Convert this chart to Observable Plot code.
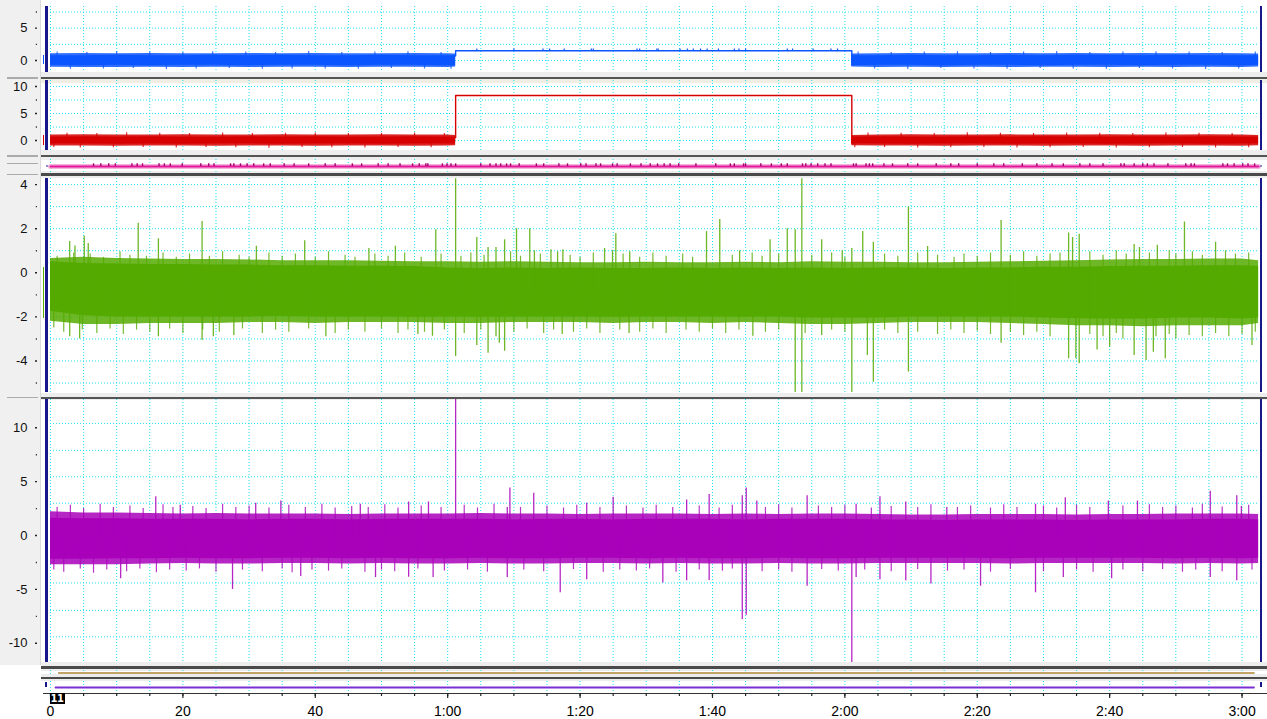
<!DOCTYPE html>
<html>
<head>
<meta charset="utf-8">
<script src="https://cdn.jsdelivr.net/npm/d3@7"></script>
<script src="https://cdn.jsdelivr.net/npm/@observablehq/plot@0.6"></script>
<style>
html, body { margin: 0; padding: 0; background: #fff; }
#root { position: relative; width: 1267px; height: 719px; overflow: hidden; background: #fff; font-family: "Liberation Sans", Arial, sans-serif; }
#root svg { position: absolute; left: 0; }
.box { position: absolute; }
#tag { position: absolute; left: 49.5px; top: 692.7px; width: 15px; height: 11.5px; background: #000; color: #fff; font: bold 10px "DejaVu Sans", sans-serif; line-height: 11.5px; text-align: center; letter-spacing: -0.5px; }
</style>
</head>
<body>
<div id="root"></div>
<script>
// ---------- time axis ----------
const T_END = 182.56;
const gridT = [0,5,10,15,20,25,30,35,40,45,50,55,60,65,70,75,80,85,90,95,100,105,110,115,120,125,130,135,140,145,150,155,160,165,170,175,180];
const xMinorT = gridT;
const xMajorT = [0,20,40,60,80,100,120,140,160,180];

// ---------- channel 1 (blue) ----------
const blueT = [0,5,10,15,20,25,30,35,40,45,50,55,60,61.2,61.3,121,121.05,125,130,135,140,145,150,155,160,165,170,175,180,182.5];
const blueCoreHi   = [0.75,0.75,0.8,0.75,0.75,0.8,0.75,0.8,0.75,0.75,0.8,0.75,0.75,0.75,null,null,0.75,0.75,0.8,0.75,0.75,0.8,0.75,0.8,0.8,0.75,0.8,0.75,0.75,0.75];
const blueCoreLo   = [-0.75,-0.8,-0.75,-0.8,-0.75,-0.75,-0.8,-0.75,-0.75,-0.8,-0.75,-0.75,-0.8,-0.8,null,null,-0.8,-0.75,-0.75,-0.8,-0.75,-0.75,-0.8,-0.75,-0.75,-0.8,-0.75,-0.75,-0.8,-0.75];
const blueFringeHi = [1.05,1.1,1.05,1.1,1.05,1.05,1.1,1.05,1.1,1.05,1.05,1.1,1.05,1.0,null,null,1.0,1.05,1.1,1.05,1.05,1.1,1.05,1.1,1.05,1.1,1.05,1.1,1.05,1.0];
const blueFringeLo = [-1.05,-1.1,-1.1,-1.05,-1.1,-1.05,-1.1,-1.05,-1.05,-1.1,-1.05,-1.05,-1.1,-1.0,null,null,-1.0,-1.1,-1.05,-1.1,-1.05,-1.1,-1.05,-1.05,-1.1,-1.05,-1.1,-1.05,-1.1,-1.0];
const blueTexture = [[1,1.3],[3,-1.35],[5.5,1.25],[8,-1.3],[10,1.4],[12.5,-1.25],[15,1.3],[17.5,-1.4],[20,1.25],[22,-1.3],
  [24.5,1.35],[27,-1.25],[29.5,1.3],[32,-1.35],[34,1.25],[36.5,-1.3],[39,1.4],[41.5,-1.3],[44,1.25],[46.5,-1.35],[49,1.3],
  [51.5,-1.25],[54,1.35],[56.5,-1.3],[59,1.25],[60.5,-1.35],[122,1.3],[124.5,-1.3],[127,1.25],[129.5,-1.4],[132,1.3],
  [134.5,-1.25],[137,1.35],[139.5,-1.3],[142,1.25],[144.5,-1.35],[147,1.3],[149.5,-1.25],[152,1.4],[154.5,-1.3],
  [157,1.25],[159.5,-1.35],[162,1.3],[164.5,-1.25],[167,1.35],[169.5,-1.3],[172,1.3],[174.5,-1.4],[177,1.25],[179.5,-1.3],[182,1.3]];
const blueStepT = [61.2, 61.2, 121.05, 121.05];
const blueStepV = [0.7, 1.5, 1.5, -0.7];
const blueBlipT = [64.4,70.0,74.4,75.4,77.6,81.7,82.0,88.6,89.0,91.6,91.8,95.1,96.2,97.1,98.2,99.2,100.9,103.3,104.0,105.0,111.3,112.1,115.2,117.9,118.9];
const blueBlipTop = 1.78;
const blueGridV = [0, 2.5, 5, 7.5];
const blueLabelV = [0, 5];
const blueMinorV = [2.5, 7.5];

// ---------- channel 2 (red) ----------
const redT = blueT;
const redCoreHi   = [0.65,0.7,0.65,0.7,0.65,0.65,0.7,0.65,0.7,0.65,0.65,0.7,0.65,0.65,null,null,0.65,0.7,0.65,0.65,0.7,0.65,0.7,0.65,0.65,0.7,0.65,0.7,0.65,0.65];
const redCoreLo   = [-0.65,-0.65,-0.7,-0.65,-0.7,-0.65,-0.65,-0.7,-0.65,-0.65,-0.7,-0.65,-0.65,-0.65,null,null,-0.65,-0.65,-0.7,-0.65,-0.65,-0.7,-0.65,-0.65,-0.7,-0.65,-0.65,-0.7,-0.65,-0.65];
const redFringeHi = [1.0,1.05,1.0,1.0,1.05,1.0,1.0,1.05,1.0,1.0,1.05,1.0,1.0,0.95,null,null,0.95,1.0,1.05,1.0,1.0,1.05,1.0,1.0,1.05,1.0,1.0,1.05,1.0,0.95];
const redFringeLo = [-1.0,-1.0,-1.05,-1.0,-1.0,-1.05,-1.0,-1.0,-1.05,-1.0,-1.0,-1.05,-1.0,-0.95,null,null,-0.95,-1.0,-1.0,-1.05,-1.0,-1.0,-1.05,-1.0,-1.0,-1.05,-1.0,-1.0,-1.05,-0.95];
const redTexture = [[0.5,-1.3],[2.5,1.35],[4.5,-1.4],[7,1.3],[9.5,-1.35],[11.5,1.45],[14,-1.3],[16.5,1.35],[19,-1.4],[21,1.3],
  [23.5,-1.3],[26,1.4],[28,-1.35],[30.5,1.3],[33,-1.45],[35.5,1.35],[38,-1.3],[40,1.4],[42.5,-1.35],[45,1.3],[47.5,-1.4],
  [50,1.35],[52.5,-1.3],[55,1.4],[57.5,-1.35],[59.5,1.3],[121.5,-1.35],[123.5,1.4],[126,-1.3],[128.5,1.35],[131,-1.4],
  [133.5,1.3],[136,-1.35],[138.5,1.45],[141,-1.3],[143.5,1.35],[146,-1.4],[148.5,1.3],[151,-1.35],[153.5,1.4],[156,-1.3],
  [158.5,1.35],[161,-1.4],[163.5,1.3],[166,-1.35],[168.5,1.45],[171,-1.3],[173.5,1.35],[176,-1.4],[178.5,1.3],[181,-1.35]];
const redStepT = [61.2, 61.2, 121.05, 121.05];
const redStepV = [0.5, 8.33, 8.33, -0.5];
const redGridV = [0, 2.5, 5, 7.5, 10];
const redLabelV = [0, 5, 10];
const redMinorV = [2.5, 7.5];

// ---------- channel 3 (pink event strip) ----------
const pinkMarkT = [6.5,7.6,8.8,9.8,12.3,13.1,13.9,16.4,17.2,18.1,19.9,22.7,23.9,24.7,27.2,27.7,28.7,29.7,30.7,32.2,33.2,35.3,36.8,
  39,41.5,43,45.6,47,49.5,51,52.8,54.7,55.7,56.7,57.0,59.2,59.9,60.5,61.2,65.0,66.4,67.3,68.0,68.9,69.5,70.8,73.4,74.5,76.8,78.1,
  80.1,80.9,82.4,83.1,84.9,85.6,87.6,89.2,90.6,91.7,92.7,93.6,94.9,97.5,100.5,102.7,103.3,104.7,105.0,107.3,108.9,110.4,111.3,
  113.6,114.1,114.9,115.9,117.0,117.9,121.3,121.7,123.2,123.7,124.2,125.9,127.2,129.5,131,133.8,136,137.2,140,142.5,144,146.8,
  149,151.3,153,155.5,157,159,161.7,162.2,163.7,165.0,165.7,166.7,168.8,171.5,172.3,172.8,177.1,177.8,178.8,180.1,180.9,181.9];
const pinkT = [0, 182.5];
const pinkV = [0, 0];

// ---------- channel 4 (green) ----------
const greenT = [0,5,10,15,20,25,30,35,40,45,50,55,60,65,70,75,80,85,90,95,100,105,110,115,120,125,130,135,140,145,150,155,160,165,170,175,180,182.5];
const greenCoreHi   = [0.5,0.42,0.4,0.38,0.38,0.35,0.35,0.32,0.32,0.3,0.3,0.28,0.22,0.2,0.22,0.2,0.22,0.2,0.2,0.22,0.2,0.22,0.2,0.22,0.2,0.22,0.22,0.2,0.22,0.22,0.25,0.25,0.28,0.3,0.3,0.32,0.32,0.3];
const greenCoreLo   = [-1.75,-1.95,-2.0,-2.0,-2.0,-2.0,-2.0,-1.98,-2.0,-2.0,-2.0,-2.02,-2.0,-2.02,-2.0,-2.0,-2.0,-2.02,-2.0,-2.0,-2.0,-2.02,-2.0,-2.05,-2.05,-2.05,-2.0,-2.0,-2.0,-2.0,-2.05,-2.08,-2.1,-2.1,-2.05,-2.05,-2.1,-2.05];
const greenFringeHi = [0.65,0.7,0.65,0.62,0.6,0.6,0.58,0.55,0.55,0.55,0.52,0.5,0.5,0.48,0.5,0.48,0.45,0.45,0.48,0.45,0.45,0.48,0.45,0.5,0.48,0.48,0.45,0.45,0.48,0.5,0.52,0.55,0.58,0.6,0.6,0.62,0.62,0.55];
const greenFringeLo = [-2.2,-2.35,-2.35,-2.3,-2.3,-2.3,-2.25,-2.25,-2.3,-2.25,-2.25,-2.25,-2.3,-2.3,-2.25,-2.25,-2.25,-2.3,-2.25,-2.25,-2.3,-2.25,-2.3,-2.35,-2.35,-2.3,-2.25,-2.25,-2.25,-2.3,-2.35,-2.4,-2.4,-2.45,-2.4,-2.4,-2.4,-2.3];
const greenCenter = -0.9;
const greenSpikes = [[2.9,1.42],[2.9,-2.9],[3.7,1.22],[4.4,-3.0],[5.1,1.66],[5.7,1.33],[13.25,2.25],[16.3,1.54],[16.3,-2.9],
  [22.9,2.33],[22.9,-3.07],[24.6,-2.9],[27.7,-2.85],[31.1,1.2],[38.4,1.45],[41.6,-2.9],[48.1,1.1],[52.1,1.2],[55.5,-2.8],
  [57.7,-2.88],[58.2,1.95],[61.2,4.27],[61.2,-3.8],[64.4,1.6],[64.4,-3.3],[66.1,1.15],[66.1,-3.65],[67.3,1.15],[67.3,-2.9],
  [67.8,-3.2],[68.6,1.5],[68.6,-3.56],[70.4,2.0],[72.4,2.0],[73.1,1.0],[75.6,1.05],[76.6,0.95],[77.3,-2.8],[77.4,1.05],
  [83.7,1.1],[84.9,1.0],[85.4,1.77],[87.4,-2.75],[87.5,0.95],[99.1,1.87],[101.1,2.42],[104.1,1.0],[106.1,-2.88],[108.7,1.5],
  [111.3,2.0],[112.5,1.95],[112.5,-5.43],[113.5,4.27],[113.5,-5.43],[116.5,1.5],[116.5,-2.85],[119.6,1.0],[121.05,1.1],
  [121.05,-5.43],[122.7,1.87],[123.4,-3.75],[124.3,1.39],[124.3,-4.97],[129.6,2.98],[129.6,-4.5],[132.5,1.19],[143.6,2.37],
  [143.6,-3.2],[153.8,1.8],[153.8,-3.9],[154.4,1.6],[154.9,-3.9],[155.4,1.75],[155.4,-4.13],[158.1,-3.5],[160.0,-3.37],
  [163.7,1.28],[163.7,-3.75],[164.5,1.15],[165.5,-3.98],[166.6,-3.6],[167.2,1.25],[168.4,-3.9],[171.3,2.3],[176.0,1.39],[181.5,-3.3]];
const greenTexture = [[1,0.75],[3.5,0.9],[6,0.85],[8,0.7],[10.5,0.95],[12,0.8],[14.5,0.75],[17,0.9],[19,0.7],[21,0.85],[24,0.75],
  [26,0.95],[28.5,0.8],[30,0.7],[33,0.9],[35,0.75],[37,0.85],[40,0.7],[42,0.95],[44.5,0.8],[46,0.7],[49,0.85],[51,0.75],
  [53.5,0.9],[56,0.7],[59,0.85],[62,0.75],[63.5,0.9],[65.5,0.8],[69.5,0.95],[71,0.75],[74,0.85],[78.5,0.8],[80,0.7],[82,0.9],
  [86.5,0.85],[89,0.7],[91,0.9],[93,0.75],[95.5,0.85],[97,0.7],[103,0.8],[106,0.9],[107.5,0.75],[110,0.85],[115,0.8],[118,0.9],
  [120,0.7],[126,0.85],[128,0.75],[131,0.9],[134,0.8],[136.5,0.7],[138,0.85],[140,0.75],[142,0.9],[145,0.8],[147,0.95],
  [149,0.75],[151,0.85],[152.5,0.9],[157,0.95],[159,0.8],[161,1.0],[162.5,0.85],[166,0.9],[169,1.0],[170,0.85],[172.5,0.95],
  [174,0.8],[177.5,1.0],[179,0.85],[181,0.9],
  [0.5,-2.5],[2,-2.7],[4.8,-2.6],[7,-2.75],[9,-2.55],[11,-2.8],[13,-2.6],[15,-2.7],[18,-2.55],[20,-2.75],[23,-2.6],[25.5,-2.7],
  [29,-2.55],[32,-2.75],[34,-2.6],[36,-2.7],[39,-2.55],[43,-2.75],[45,-2.6],[47.5,-2.7],[50,-2.55],[52.5,-2.75],[54,-2.6],
  [56.5,-2.7],[59.5,-2.6],[62.5,-2.75],[65,-2.6],[70,-2.7],[72,-2.55],[74.5,-2.75],[76,-2.6],[79,-2.7],[81,-2.55],[83,-2.75],
  [86,-2.6],[89,-2.7],[91,-2.55],[93,-2.75],[96,-2.6],[98,-2.7],[100,-2.55],[102,-2.75],[104,-2.6],[108,-2.7],[110,-2.6],
  [114,-2.75],[118,-2.6],[120,-2.7],[126,-2.6],[128,-2.75],[131,-2.7],[134,-2.8],[136,-2.6],[138,-2.75],[140,-2.65],[142,-2.8],
  [145,-2.7],[147,-2.85],[149,-2.7],[151,-2.9],[157,-2.8],[159,-2.9],[161,-2.75],[162,-3.0],[167,-2.9],[169,-2.8],[170,-3.0],
  [172,-2.85],[174,-2.9],[176,-2.75],[178,-2.9],[180,-2.8],[182,-2.7]];
const greenGridV = [-5,-4,-3,-2,-1,0,1,2,3,4];
const greenLabelV = [-4,-2,0,2,4];
const greenMinorV = [-5,-3,-1,1,3];

// ---------- channel 5 (purple) ----------
const purpleT = greenT;
const purpleCoreHi   = [1.6,1.55,1.55,1.5,1.5,1.5,1.45,1.5,1.5,1.45,1.5,1.5,1.5,1.5,1.45,1.5,1.5,1.45,1.5,1.5,1.5,1.45,1.5,1.5,1.5,1.45,1.45,1.4,1.45,1.45,1.45,1.4,1.45,1.45,1.45,1.5,1.5,1.45];
const purpleCoreLo   = [-2.2,-2.2,-2.15,-2.15,-2.1,-2.15,-2.15,-2.1,-2.1,-2.15,-2.1,-2.15,-2.15,-2.1,-2.15,-2.15,-2.1,-2.1,-2.15,-2.1,-2.15,-2.15,-2.1,-2.15,-2.15,-2.1,-2.1,-2.1,-2.1,-2.15,-2.1,-2.1,-2.1,-2.1,-2.15,-2.1,-2.15,-2.1];
const purpleFringeHi = [2.2,2.1,2.1,2.05,2.0,2.05,2.0,2.0,2.0,1.95,2.0,2.0,2.0,2.05,2.0,2.0,1.95,2.0,2.0,2.0,1.95,2.0,1.95,2.0,2.0,1.95,1.9,1.9,1.95,1.95,1.95,1.9,1.95,1.95,2.0,2.0,2.0,1.95];
const purpleFringeLo = [-2.7,-2.7,-2.7,-2.65,-2.6,-2.65,-2.65,-2.6,-2.6,-2.65,-2.6,-2.65,-2.65,-2.6,-2.65,-2.65,-2.6,-2.6,-2.65,-2.6,-2.65,-2.65,-2.6,-2.65,-2.65,-2.6,-2.6,-2.6,-2.6,-2.65,-2.6,-2.6,-2.6,-2.6,-2.65,-2.6,-2.65,-2.6];
const purpleCenter = -0.3;
const purpleSpikes = [[10.6,-4.0],[15.9,3.6],[19.6,2.8],[27.5,-5.0],[31,3.0],[34.8,3.2],[37.8,-3.8],[46.8,2.9],[49.1,-3.9],
  [54.1,3.1],[54.1,-3.87],[57.1,3.1],[57.8,-3.9],[61.2,12.62],[69.0,2.6],[69.0,-3.9],[69.4,4.4],[73.0,3.92],[77.0,-5.3],
  [81.0,3.0],[81.0,-4.1],[85.0,3.55],[92.5,-4.4],[96.1,3.3],[96.1,-4.2],[99.5,3.8],[99.5,-4.17],[104.5,3.7],[104.5,-7.8],
  [105.1,4.4],[105.1,-7.4],[106.7,3.2],[114.3,3.7],[114.3,-4.7],[121.05,-11.78],[121.7,2.9],[121.7,-3.9],[125.3,3.6],
  [125.3,-4.1],[129.2,3.1],[129.2,-4.2],[133.0,-4.5],[135.4,2.6],[140.5,-4.7],[148.8,2.9],[148.8,-5.3],[153.0,-3.9],
  [153.3,3.5],[159.8,3.2],[160.3,-4.0],[164.2,3.2],[175.2,4.1],[175.2,-3.9],[179.2,3.7],[179.2,-4.2],[179.9,2.7]];
const purpleTexture = [[1,2.6],[3,2.8],[5,2.5],[7.5,2.9],[9.5,2.6],[12,2.75],[14,2.5],[17,2.85],[18.5,2.6],[21.5,2.7],[23.5,2.5],
  [26,2.9],[28,2.6],[30,2.75],[33,2.55],[36,2.8],[38.5,2.6],[41,2.9],[43,2.55],[45.5,2.7],[48,2.6],[50.5,2.85],[52.5,2.55],
  [56,2.75],[59,2.6],[62.5,2.8],[64.5,2.55],[67,2.9],[71,2.6],[75,2.75],[77.5,2.55],[79.5,2.8],[83,2.6],[87,2.75],[89.5,2.55],
  [91.5,2.8],[94,2.6],[98,2.75],[101,2.55],[103,2.8],[108,2.6],[110,2.85],[112,2.55],[116,2.75],[118,2.6],[120,2.8],[124,2.55],
  [127,2.7],[131,2.6],[133,2.85],[137,2.6],[139,2.75],[142,2.55],[144,2.85],[146,2.6],[150,2.75],[152,2.55],[155,2.8],
  [157,2.6],[162,2.75],[166,2.85],[168,2.6],[170,2.75],[172.5,2.55],[174,2.9],[177,2.65],[181,2.8],
  [0.5,-3.2],[2,-3.4],[4.5,-3.1],[6.5,-3.5],[8.5,-3.2],[11.5,-3.35],[13.5,-3.1],[16,-3.45],[18,-3.2],[20.5,-3.3],[22.5,-3.1],
  [25,-3.4],[29,-3.2],[32,-3.35],[35,-3.1],[36.5,-3.45],[39.5,-3.2],[42,-3.3],[44,-3.1],[47.5,-3.4],[50,-3.2],[52,-3.35],
  [55.5,-3.1],[59.5,-3.3],[63,-3.2],[66,-3.4],[71.5,-3.2],[74.5,-3.35],[79,-3.15],[83.5,-3.4],[86,-3.2],[88.5,-3.3],[90.5,-3.1],
  [94.5,-3.4],[98,-3.2],[101.5,-3.3],[103,-3.1],[107.5,-3.35],[110,-3.2],[112,-3.4],[116.5,-3.15],[119,-3.3],[123,-3.2],
  [127,-3.35],[131,-3.15],[135.5,-3.3],[138,-3.2],[142,-3.4],[145,-3.15],[150,-3.35],[155,-3.2],[157.5,-3.4],[162,-3.2],
  [165,-3.35],[168,-3.15],[171,-3.4],[173,-3.2],[177,-3.35],[181.5,-3.2]];
const purpleGridV = [10.4, 7.9, 5.45, 3.0, 0.5, -1.95, -4.4, -6.95, -9.4];
const purpleLabelV = [-10, -5, 0, 5, 10];
const purpleMinorV = [-7.5, -2.5, 2.5, 7.5];

// ---------- channels 6, 7 (flat traces) ----------
const tanT = [1.25, 181.8];
const tanV = [0, 0];
const violetT = [0.75, 181.8];
const violetV = [0, 0];

// ---------- styling ----------
const W = 1267;
const CYAN = "#19e3f2";
const NAVY = "#17178a";
const BLUE = "#0a55ff";
const RED = "#d60000";
const GREEN = "#55aa00";
const PURPLE = "#a900ba";
const FONT = "'Liberation Sans', Arial, sans-serif";
const root = document.getElementById("root");

function box(x, y, w, h, bg) {
  const d = document.createElement("div");
  d.className = "box";
  Object.assign(d.style, {left: x + "px", top: y + "px", width: w + "px", height: h + "px", background: bg});
  root.appendChild(d);
  return d;
}

function panel(top, bottom, yDomain, marks, marginBottom = 0) {
  const h = bottom - top;
  const svg = Plot.plot({
    width: W, height: h + marginBottom,
    marginLeft: 50, marginRight: W - 1258.5, marginTop: 0, marginBottom,
    x: {domain: [0, T_END], axis: null, label: null},
    y: {domain: yDomain, axis: null, label: null},
    style: {background: "transparent", overflow: "visible", fontFamily: FONT, fontSize: "13px", color: "#111"},
    marks
  });
  svg.style.top = top + "px";
  root.appendChild(svg);
}

function bandSegments(T, lo, hi) {
  const rows = []; let seg = 0;
  T.forEach((t, i) => {
    if (lo[i] == null || hi[i] == null) { seg++; return; }
    rows.push({t, lo: lo[i], hi: hi[i], seg});
  });
  return rows;
}
const zipRows = (T, V) => T.map((t, i) => ({t, v: V[i]}));
const spikeRows = (S) => S.map(([t, v]) => ({t, v}));

const gridX = () => Plot.ruleX(gridT, {stroke: CYAN, strokeDasharray: "1,2", strokeWidth: 1});
const gridY = (vals) => Plot.ruleY(vals, {stroke: CYAN, strokeDasharray: "1,2", strokeWidth: 1});
const yAxis = (labels, minor) => [
  Plot.axisY(labels, {anchor: "left", tickSize: 2, tickPadding: 8, dx: -13, tickFormat: d => String(d),
    fontSize: 13, fontFamily: FONT, fill: "#111", stroke: "#222", strokeWidth: 1.4, label: null}),
  Plot.axisY(minor, {anchor: "left", tickSize: 1.2, dx: -13, fill: "none", stroke: "#333", strokeWidth: 1.4, label: null})
];
const band = (T, fLo, fHi, cLo, cHi, color) => [
  Plot.areaY(bandSegments(T, fLo, fHi), {x: "t", y1: "lo", y2: "hi", z: "seg", fill: color, fillOpacity: 0.85}),
  Plot.areaY(bandSegments(T, cLo, cHi), {x: "t", y1: "lo", y2: "hi", z: "seg", fill: color})
];
const spikes = (S, center, color, w = 1.3, op = 0.85) =>
  Plot.ruleX(spikeRows(S), {x: "t", y1: center, y2: "v", stroke: color, strokeWidth: w, strokeOpacity: op, clip: true});
const fmtT = t => t < 60 ? String(t) : `${Math.floor(t / 60)}:${String(t % 60).padStart(2, "0")}`;

// ---------- background decoration ----------
box(0, 0, 40, 665, "#f0f0f0");
box(40, 0, 1, 665, "#dadada");
for (const y of [77, 155, 162.5, 173.5, 396.5]) box(7, y, 31, 1.5, "#ababab");
box(41, 72, 1226, 5, "#ededed");   box(41, 77, 1226, 2, "#545454");   box(41, 79, 1226, 4, "#f1efe4");
box(41, 150, 1226, 4.5, "#ededed"); box(41, 154.5, 1226, 2.5, "#545454"); box(41, 157, 1226, 3, "#ededed");
box(41, 170.5, 1226, 2.5, "#ededed"); box(41, 173, 1226, 2.5, "#4a4a4a"); box(41, 175.5, 1226, 2.5, "#ededed");
box(41, 392.5, 1226, 4, "#ededed"); box(41, 396.5, 1226, 2.2, "#545454"); box(41, 398.7, 1226, 1.3, "#ededed");
box(41, 662, 1226, 4, "#ededed");   box(41, 666, 1226, 2.7, "#4a4a4a"); box(41, 668.7, 1226, 2.3, "#ededed");
box(41, 674, 1226, 2.7, "#ededed"); box(41, 676.7, 1226, 2.6, "#4a4a4a"); box(41, 679.3, 1226, 1.7, "#ededed");
box(43, 692.7, 1224, 1.4, "#333");

// ---------- panels ----------
panel(6, 72, [-1.855, 8.35], [
  gridX(), gridY(blueGridV),
  ...band(blueT, blueFringeLo, blueFringeHi, blueCoreLo, blueCoreHi, BLUE),
  spikes(blueTexture, 0, BLUE, 1.2, 0.8),
  Plot.line(zipRows(blueStepT, blueStepV), {x: "t", y: "v", stroke: BLUE, strokeWidth: 1.4}),
  Plot.ruleX(blueBlipT, {y1: blueStepV[1], y2: blueBlipTop, stroke: BLUE, strokeWidth: 1.2}),
  ...yAxis(blueLabelV, blueMinorV)
]);

panel(80, 150, [-1.85, 11.11], [
  gridX(), gridY(redGridV),
  ...band(redT, redFringeLo, redFringeHi, redCoreLo, redCoreHi, RED),
  spikes(redTexture, 0, RED, 1.2, 0.8),
  Plot.line(zipRows(redStepT, redStepV), {x: "t", y: "v", stroke: RED, strokeWidth: 1.4}),
  ...yAxis(redLabelV, redMinorV)
]);

panel(159, 173, [-1, 1], [
  gridX(),
  Plot.line(zipRows(pinkT, pinkV), {x: "t", y: "v", stroke: "#f4b3da", strokeWidth: 5}),
  Plot.line(zipRows(pinkT, pinkV), {x: "t", y: "v", stroke: "#e2189c", strokeWidth: 1.8}),
  Plot.ruleX(pinkMarkT, {y1: 0, y2: 0.38, stroke: "#a3006c", strokeWidth: 1.4})
]);

panel(178, 392, [-5.43, 4.277], [
  gridX(), gridY(greenGridV),
  ...band(greenT, greenFringeLo, greenFringeHi, greenCoreLo, greenCoreHi, GREEN),
  spikes(greenTexture, greenCenter, GREEN, 1.2, 0.8),
  spikes(greenSpikes, greenCenter, GREEN),
  ...yAxis(greenLabelV, greenMinorV)
]);

panel(399, 662, [-11.78, 12.62], [
  gridX(), gridY(purpleGridV),
  ...band(purpleT, purpleFringeLo, purpleFringeHi, purpleCoreLo, purpleCoreHi, PURPLE),
  spikes(purpleTexture, purpleCenter, PURPLE, 1.2, 0.8),
  spikes(purpleSpikes, purpleCenter, PURPLE),
  ...yAxis(purpleLabelV, purpleMinorV)
]);

panel(670, 675, [-1, 1], [
  gridX(),
  Plot.line(zipRows(tanT, tanV), {x: "t", y: "v", stroke: "#c4a466", strokeWidth: 1.8})
]);

panel(681, 693, [-1, 1], [
  gridX(),
  Plot.line(zipRows(violetT, violetV), {x: "t", y: "v", stroke: "#7a2fd2", strokeWidth: 1.8}),
  Plot.axisX(xMinorT, {anchor: "bottom", tickSize: 3, fill: "none", stroke: "#222", strokeWidth: 1.2, label: null}),
  Plot.axisX(xMajorT, {anchor: "bottom", tickSize: 5, tickPadding: 8, tickFormat: fmtT, fontSize: 14, fontFamily: FONT,
    fill: "#000", stroke: "#222", strokeWidth: 1.2, label: null})
], 26);

// ---------- foreground decoration ----------
for (const [t, b] of [[6, 72], [80, 150], [178, 392], [399, 662]]) {
  box(45, t, 2.5, b - t, NAVY);
  box(1259.5, t, 2.5, b - t, NAVY);
}
box(45, 682, 2, 4.5, NAVY); box(1260, 682, 2, 4.5, NAVY);
box(46, 165, 2, 2, "#8c8cc8"); box(1260, 165, 2, 2, "#8c8cc8");
box(42.5, 55, 1, 9, BLUE);
box(42.5, 135, 1, 10, RED);
box(42.5, 267, 1, 51, GREEN);
const tag = document.createElement("div");
tag.id = "tag"; tag.textContent = "11";
root.appendChild(tag);
</script>
</body>
</html>
